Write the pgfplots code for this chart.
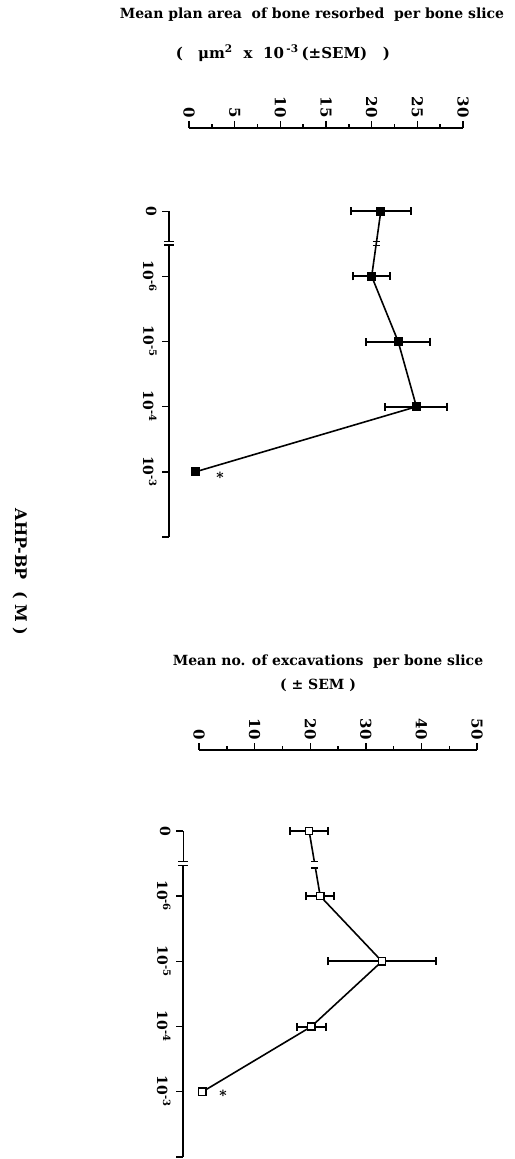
\documentclass[border=0pt]{standalone}
\usepackage{fontspec}
\setmainfont{DejaVu Serif}
\usepackage{pgfplots}
\usepackage{pgfplotstable}
\pgfplotsset{compat=1.18}

% categories run downward: 0, 1e-6, 1e-5, 1e-4, 1e-3 -> y = 0,-1,-2,-3,-4
\pgfplotstableread{
idx val err
0 21.0 3.3
-1 20.0 2.0
-2 22.9 3.5
-3 24.9 3.4
-4 0.7 0
}\areadata

\pgfplotstableread{
idx val err
0 19.8 3.4
-1 21.8 2.5
-2 32.9 9.7
-3 20.2 2.6
-4 0.6 0
}\countdata

\newcommand{\tl}{\bfseries\fontsize{7.5}{7.5}\selectfont}
\newcommand{\cl}{\bfseries\fontsize{7}{7}\selectfont}

\pgfplotsset{
  panel/.style={
    scale only axis, width=147pt, clip=false,
    axis x line*=top, axis y line*=left,
    axis line style={draw=none},
    tick align=outside,
    tick style={black,line width=0.7pt},
    major tick length=3.5pt, minor tick length=1.8pt,
    ymin=-5,
    ytick={0,-1,-2,-3,-4,-5},
    yticklabels={0,10\textsuperscript{-6},10\textsuperscript{-5},10\textsuperscript{-4},10\textsuperscript{-3},{}},
    minor x tick num=1,
    xticklabel style={rotate=-90,anchor=east,font=\tl,inner sep=1.5pt},
    yticklabel style={rotate=-90,anchor=north,font=\cl,inner sep=2.5pt},
    /pgf/number format/assume math mode=true,
  },
  dline/.style={black,line width=0.8pt,mark=square*,mark size=1.8pt,
    error bars/x dir=both, error bars/x explicit,
    error bars/error bar style={line width=1pt,solid},
    error bars/error mark options={rotate=90,line width=1pt,mark size=2pt}},
}

\begin{document}
\begin{tikzpicture}
\path[use as bounding box] (0,0) rectangle (257pt,-579.5pt);

% ---- panel 1: plan area
\node[font=\bfseries\fontsize{7}{8}\selectfont] at (156pt,-7.5pt) {Mean plan area\ \ of bone resorbed\ \ per bone slice};
\node[font=\bfseries\fontsize{7.5}{8}\selectfont] at (141.5pt,-26.5pt) {(\quad μm\textsuperscript{2}\ \ x\ \ 10\,\textsuperscript{-3}\,(±SEM)\ \ \ )};

\begin{axis}[panel, at={(84.5pt,-64pt)}, anchor=north west, height=204.5pt,
  xmin=-2.19, xmax=30, ymax=1.277, xtick={0,5,...,30}]
  \addplot[dline,mark options={fill=black,draw=black}] table[x=val,y=idx,x error=err] {\areadata};
  % axis lines
  \draw[line width=0.7pt] (axis cs:0,1.277) -- (axis cs:30,1.277);
  \draw[line width=0.7pt] (axis cs:-2.19,0) -- (axis cs:-2.19,-0.46);
  \draw[line width=0.7pt] (axis cs:-2.19,-0.52) -- (axis cs:-2.19,-5);
  \draw[line width=0.6pt] (axis cs:-2.19,-0.46) ++(-2.5pt,0pt) -- ++(5pt,0pt);
  \draw[line width=0.6pt] (axis cs:-2.19,-0.52) ++(-2.5pt,0pt) -- ++(5pt,0pt);
  % break on the data line
  \draw[line width=0.5pt] (axis cs:20.5,-0.47) ++(-1.8pt,0pt) -- ++(3.6pt,0pt);
  \draw[line width=0.5pt] (axis cs:20.5,-0.47) ++(-1.8pt,-1.6pt) -- ++(3.6pt,0pt);
  \node[font=\bfseries\fontsize{7}{7}\selectfont] at (axis cs:3.4,-4.08) {*};
\end{axis}

% ---- panel 2: number of excavations
\node[font=\bfseries\fontsize{7}{8}\selectfont] at (164pt,-331pt) {Mean no. of excavations\ \ per bone slice};
\node[font=\bfseries\fontsize{7}{8}\selectfont] at (159pt,-342.5pt) {( ± SEM )};

\begin{axis}[panel, at={(91.5pt,-375pt)}, anchor=north west, height=203.5pt,
  xmin=-2.88, xmax=50, ymax=1.24, xtick={0,10,...,50}]
  \addplot[dline,mark options={fill=white,draw=black,line width=0.7pt}] table[x=val,y=idx,x error=err] {\countdata};
  \draw[line width=0.7pt] (axis cs:0,1.24) -- (axis cs:50,1.24);
  \draw[line width=0.4pt] (axis cs:-2.88,0) -- (axis cs:-2.88,-0.47);
  \draw[line width=0.7pt] (axis cs:-2.88,-0.53) -- (axis cs:-2.88,-5);
  \draw[line width=0.6pt] (axis cs:-2.88,-0.47) ++(-2.5pt,0pt) -- ++(5pt,0pt);
  \draw[line width=0.6pt] (axis cs:-2.88,-0.53) ++(-2.5pt,0pt) -- ++(5pt,0pt);
  \fill[white] (axis cs:20.8,-0.47) ++(-2pt,0pt) rectangle ++(4pt,-3.2pt);
  \draw[line width=0.6pt] (axis cs:20.8,-0.47) ++(-1.8pt,0pt) -- ++(3.6pt,0pt);
  \draw[line width=0.6pt] (axis cs:20.8,-0.47) ++(-1.8pt,-3.2pt) -- ++(3.6pt,0pt);
  \node[font=\bfseries\fontsize{7}{7}\selectfont] at (axis cs:4.3,-4.05) {*};
\end{axis}

% shared category label
\node[rotate=-90,font=\bfseries\fontsize{8}{9}\selectfont] at (10pt,-286pt) {AHP-BP\ \ ( M )};
\end{tikzpicture}
\end{document}
